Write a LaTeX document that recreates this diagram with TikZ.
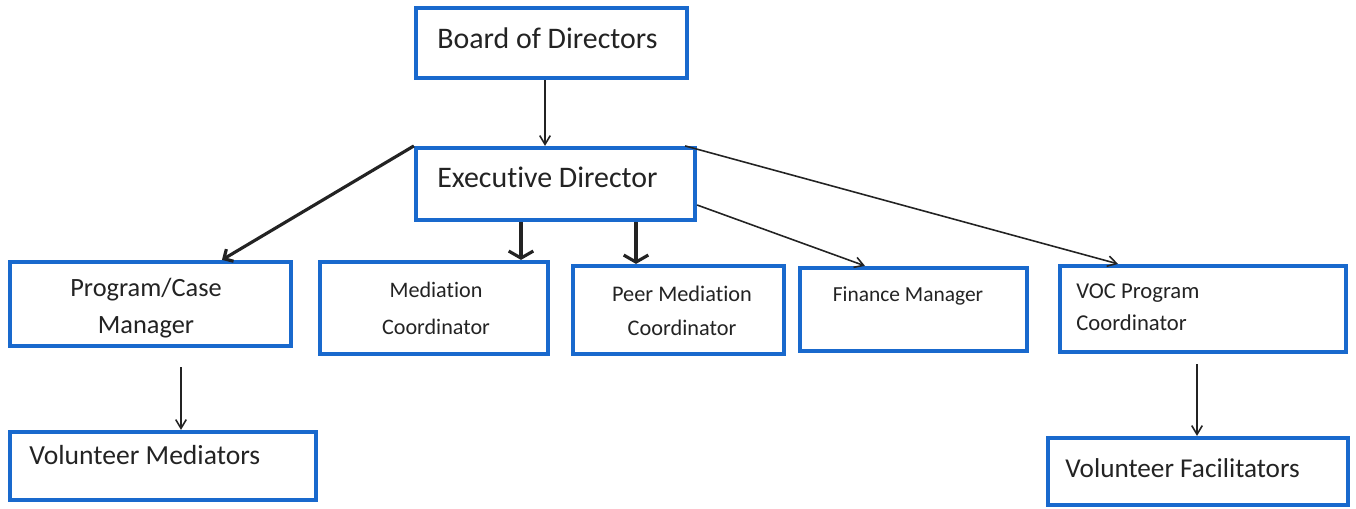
\documentclass[tikz,border=0pt]{standalone}
\usepackage{fontspec}
\setmainfont{Carlito}[Ligatures=NoCommon]
\usetikzlibrary{arrows.meta}
\definecolor{boxblue}{RGB}{25,105,205}
\definecolor{inkgray}{RGB}{35,35,35}
\tikzset{
    box/.style={draw=boxblue, line width=2.4pt, fill=white, inner sep=0pt}
}
\tikzset{
    txt/.style={inner sep=0pt, text=inkgray}
}
\tikzset{
    arr/.style={draw=inkgray, line width=0.9pt, -{Straight Barb[length=5pt,width=6pt]}},
    fatarr/.style={draw=inkgray, line width=1.8pt, -{Straight Barb[length=4pt,width=8pt]}},
    widearr/.style={draw=inkgray, line width=1.8pt, -{Straight Barb[length=4pt,width=14pt]}}
}

\begin{document}
\begin{tikzpicture}[x=0.02cm, y=-0.02cm]
  \useasboundingbox (0,0) rectangle (1356,508);

  \node (board) [box, minimum width=5.42cm, minimum height=1.4cm] at (551.5, 43) {};
  \node (exec) [box, minimum width=5.58cm, minimum height=1.44cm] at (555.5, 184) {};
  \node (prog) [box, minimum width=5.62cm, minimum height=1.68cm] at (150.5, 304) {};
  \node (med) [box, minimum width=4.56cm, minimum height=1.84cm] at (434, 308) {};
  \node (peer) [box, minimum width=4.22cm, minimum height=1.76cm] at (678.5, 310) {};
  \node (fin) [box, minimum width=4.54cm, minimum height=1.66cm] at (913.5, 309.5) {};
  \node (voc) [box, minimum width=5.72cm, minimum height=1.72cm] at (1203, 309) {};
  \node (volmed) [box, minimum width=6.12cm, minimum height=1.36cm] at (163, 466) {};
  \node (volfac) [box, minimum width=6.0cm, minimum height=1.34cm] at (1198, 471.5) {};

  \node (boardtxt) [txt, anchor=west, font=\fontsize{17}{20}\selectfont] at (437, 38) {Board of Directors};
  \node (exectxt) [txt, anchor=west, font=\fontsize{17}{20}\selectfont] at (437, 177) {Executive Director};
  \node (progtxt) [txt, align=center, font=\fontsize{15}{21}\selectfont] at (146, 308.5) {Program/Case\\Manager};
  \node (medtxt) [txt, align=center, font=\fontsize{12.6}{21}\selectfont] at (436, 308.5) {Mediation\\Coordinator};
  \node (peertxt) [txt, align=center, font=\fontsize{12.7}{19.5}\selectfont] at (682, 311) {Peer Mediation\\Coordinator};
  \node (fintxt) [txt, font=\fontsize{12.2}{15}\selectfont] at (908, 296) {Finance Manager};
  \node (voctxt) [txt, anchor=west, align=left, font=\fontsize{12.9}{18}\selectfont] at (1076, 307) {VOC Program\\Coordinator};
  \node (volmedtxt) [txt, anchor=west, font=\fontsize{15.7}{19}\selectfont] at (29, 455) {Volunteer Mediators};
  \node (volfactxt) [txt, anchor=west, font=\fontsize{15.5}{19}\selectfont] at (1065, 468) {Volunteer Facilitators};

  \draw[arr] ([xshift=-0.13cm]board.south) -- ([xshift=-0.13cm]board.south |- exec.north);
  \draw[fatarr] (exec.north west) -- ([xshift=1.43cm]prog.north);
  \draw[widearr] ([xshift=1.74cm]med.north |- exec.south) -- ([xshift=1.74cm]med.north);
  \draw[widearr] ([xshift=-0.85cm]peer.north |- exec.south) -- ([xshift=-0.85cm]peer.north);
  \draw[arr] ([yshift=-0.42cm]exec.east) -- ([xshift=-0.97cm]fin.north);
  \draw[arr] ([xshift=-0.24cm]exec.north east) -- ([xshift=-1.7cm]voc.north);
  \draw[arr, shorten <=0.38cm] ([xshift=0.61cm]prog.south) -- ([xshift=0.61cm]prog.south |- volmed.north);
  \draw[arr, shorten <=0.2cm] ([xshift=-0.12cm]voc.south) -- ([xshift=-0.12cm]voc.south |- volfac.north);
\end{tikzpicture}
\end{document}
